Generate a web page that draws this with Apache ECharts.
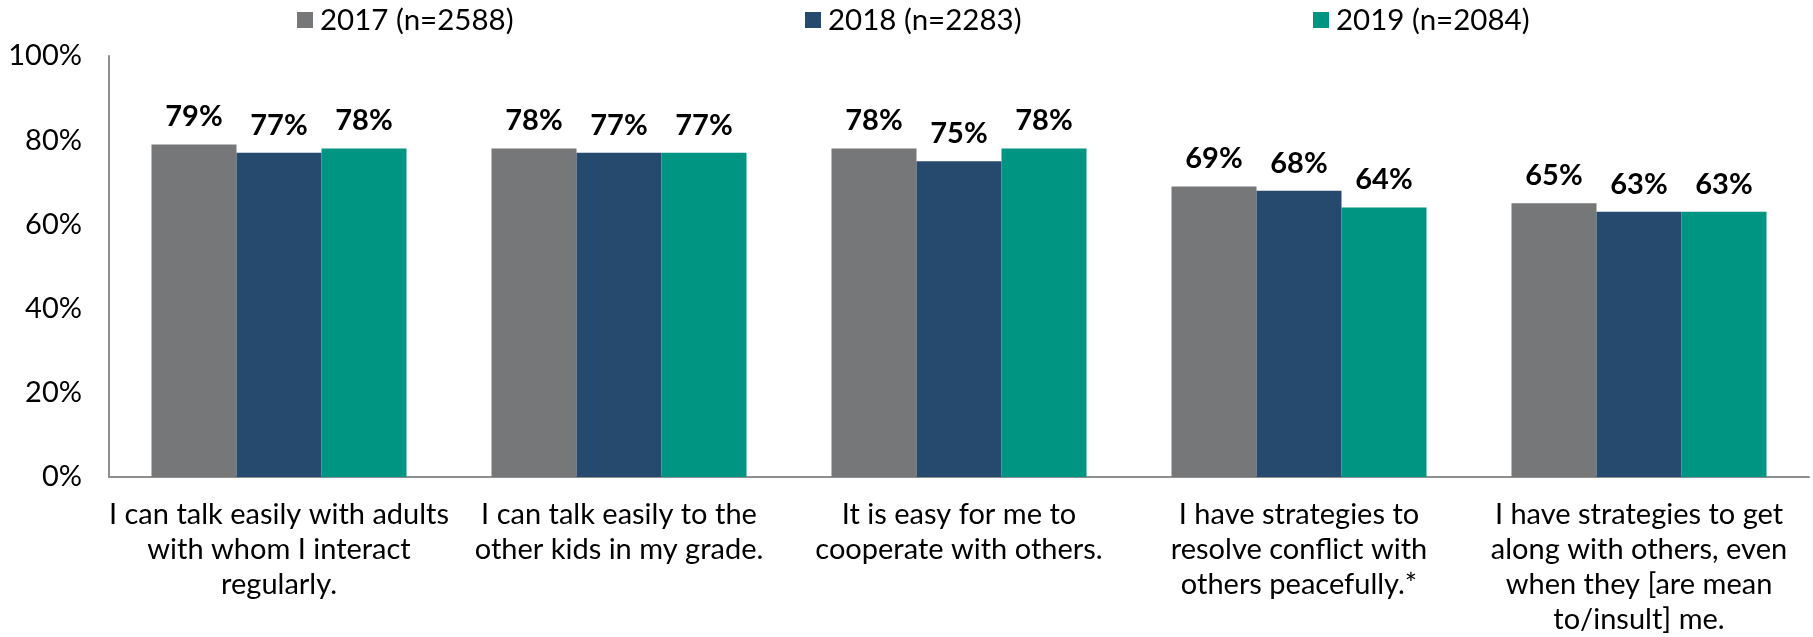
<!DOCTYPE html>
<html>
<head>
<meta charset="utf-8">
<title>Social skills survey results, 2017–2019</title>
<script src="https://cdn.jsdelivr.net/npm/echarts@6/dist/echarts.min.js"></script>
<style>
  html, body { margin: 0; padding: 0; background: #ffffff; }
  #chart { width: 1813px; height: 637px; }
</style>
</head>
<body>
<div id="chart"></div>
<script>
// Survey statements (category axis)
const categories = [
  'I can talk easily with adults\nwith whom I interact\nregularly.',
  'I can talk easily to the\nother kids in my grade.',
  'It is easy for me to\ncooperate with others.',
  'I have strategies to\nresolve conflict with\nothers peacefully.*',
  'I have strategies to get\nalong with others, even\nwhen they [are mean\nto/insult] me.'
];

// Series names as shown in the legend
const seriesNames = ['2017 (n=2588)', '2018 (n=2283)', '2019 (n=2084)'];

// Percent agreeing, per year
const values2017 = [79, 78, 78, 69, 65];
const values2018 = [77, 77, 75, 68, 63];
const values2019 = [78, 77, 78, 64, 63];

// Y-axis ticks
const yTicks = [0, 20, 40, 60, 80, 100];

const colors = ['#767779', '#264a6e', '#009483'];
const FONT = 'Lato, "Open Sans", sans-serif';

const chart = echarts.init(document.getElementById('chart'), null, { renderer: 'canvas' });

const seriesData = [values2017, values2018, values2019];
const legendLefts = [297, 805, 1313];

const option = {
  animation: false,
  backgroundColor: '#ffffff',
  textStyle: { fontFamily: FONT },
  legend: seriesNames.map((name, i) => ({
    data: [name],
    left: legendLefts[i],
    top: 5,
    padding: 0,
    itemWidth: 16,
    itemHeight: 16,
    icon: 'rect',
    selectedMode: false,
    textStyle: { fontFamily: FONT, fontSize: 29.5, color: '#000000', padding: [0, 0, 0, 2] }
  })),
  grid: {
    left: 109,
    right: 4,
    top: 56,
    bottom: 160,
    containLabel: false
  },
  xAxis: {
    type: 'category',
    data: categories,
    axisLine: { show: true, lineStyle: { color: '#8f8f8f', width: 2 } },
    axisTick: { show: false },
    axisLabel: {
      interval: 0,
      margin: 20,
      fontFamily: FONT,
      fontSize: 29,
      lineHeight: 35,
      color: '#000000',
      align: 'center'
    }
  },
  yAxis: {
    type: 'value',
    min: yTicks[0],
    max: yTicks[yTicks.length - 1],
    interval: yTicks[1] - yTicks[0],
    axisLine: { show: true, lineStyle: { color: '#8f8f8f', width: 2 } },
    axisTick: { show: false },
    splitLine: { show: false },
    axisLabel: {
      margin: 27,
      fontFamily: FONT,
      fontSize: 29,
      color: '#000000',
      formatter: v => v + '%'
    }
  },
  series: seriesNames.map((name, i) => ({
    name: name,
    type: 'bar',
    data: seriesData[i],
    barGap: '0%',
    barCategoryGap: '25%',
    itemStyle: { color: colors[i] },
    label: {
      show: true,
      position: 'top',
      distance: 13,
      fontFamily: FONT,
      fontSize: 29,
      fontWeight: 'bold',
      color: '#000000',
      formatter: p => p.value + '%'
    }
  }))
};

chart.setOption(option);
</script>
</body>
</html>
